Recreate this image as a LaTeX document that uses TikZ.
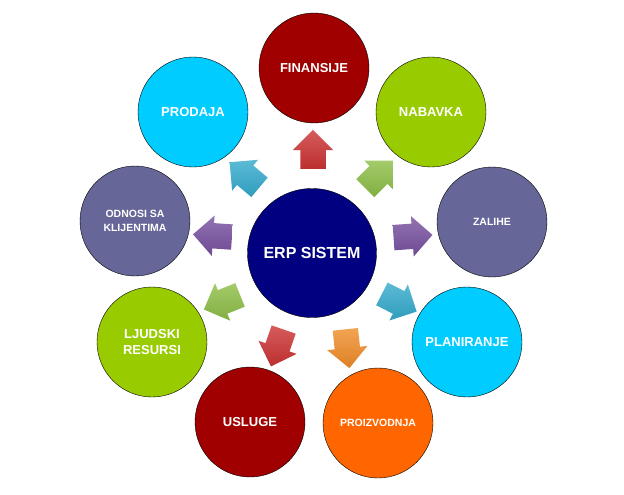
\documentclass[tikz,border=0pt]{standalone}
\usepackage{fontspec}
\setmainfont{Liberation Sans}
\usetikzlibrary{shapes.arrows}
\definecolor{erpnavy}{RGB}{0, 0, 128}
\definecolor{deepred}{RGB}{160, 0, 0}
\definecolor{limegreen}{RGB}{153, 204, 0}
\definecolor{slatepurple}{RGB}{102, 102, 153}
\definecolor{skycyan}{RGB}{0, 204, 255}
\definecolor{brightorange}{RGB}{255, 102, 0}
\definecolor{arrowred}{RGB}{204, 51, 51}
\definecolor{arrowgreen}{RGB}{140, 190, 70}
\definecolor{arrowpurple}{RGB}{120, 80, 160}
\definecolor{arrowcyan}{RGB}{51, 170, 204}
\definecolor{arroworange}{RGB}{240, 140, 40}

\begin{document}
\begin{tikzpicture}[x=1pt, y=-1pt]
    % Styles
    \tikzstyle{module} = [circle, draw=black, thin, minimum size=110pt, inner sep=0pt, text=white, align=center, font=\bfseries\fontsize{13}{16}\selectfont]
    \tikzstyle{smalltext} = [font=\bfseries\fontsize{10.5}{14.5}\selectfont]
    \tikzstyle{flow} = [single arrow, minimum height=39pt, single arrow head extend=7.5pt, inner sep=0pt]
    \tikzset{flowcol/.style={flow, top color=#1!80!white, bottom color=#1!92!black}}
    \useasboundingbox (0,0) rectangle (624,495);

    % Nodes
    \node [module, fill=erpnavy, minimum size=129pt, font=\bfseries\fontsize{16}{19}\selectfont] (erp) at (312,253) {ERP SISTEM};
    \node [module, fill=deepred] (fin) at (314,68) {FINANSIJE};
    \node [module, fill=limegreen] (nab) at (431,112) {NABAVKA};
    \node [module, fill=slatepurple, smalltext] (zal) at (492,222) {ZALIHE};
    \node [module, fill=skycyan] (plan) at (467,342) {PLANIRANJE};
    \node [module, fill=brightorange, smalltext] (proiz) at (378,423) {PROIZVODNJA};
    \node [module, fill=deepred] (usl) at (250,422) {USLUGE};
    \node [module, fill=limegreen] (ljud) at (152,342) {LJUDSKI\\RESURSI};
    \node [module, fill=slatepurple, smalltext] (odn) at (135,221) {ODNOSI SA\\KLIJENTIMA};
    \node [module, fill=skycyan] (prod) at (193,112) {PRODAJA};

    % Arrows
    \path (erp) -- node [flowcol=arrowred, rotate=90] {\rule{0pt}{25pt}} (fin);
    \path (erp) -- node [flowcol=arrowgreen, rotate=45] {\rule{0pt}{25pt}} (nab);
    \path (erp) -- node [flowcol=arrowpurple, rotate=4] {\rule{0pt}{25pt}} (zal);
    \path (erp) -- node [flowcol=arrowcyan, rotate=-27] {\rule{0pt}{25pt}} (plan);
    \path (erp) -- node [flowcol=arroworange, rotate=-84] {\rule{0pt}{25pt}} (proiz);
    \path (erp) -- node [flowcol=arrowred, rotate=-109] {\rule{0pt}{25pt}} (usl);
    \path (erp) -- node [flowcol=arrowgreen, rotate=-158] {\rule{0pt}{25pt}} (ljud);
    \path (erp) -- node [flowcol=arrowpurple, rotate=176] {\rule{0pt}{25pt}} (odn);
    \path (erp) -- node [flowcol=arrowcyan, rotate=140] {\rule{0pt}{25pt}} (prod);
\end{tikzpicture}
\end{document}
